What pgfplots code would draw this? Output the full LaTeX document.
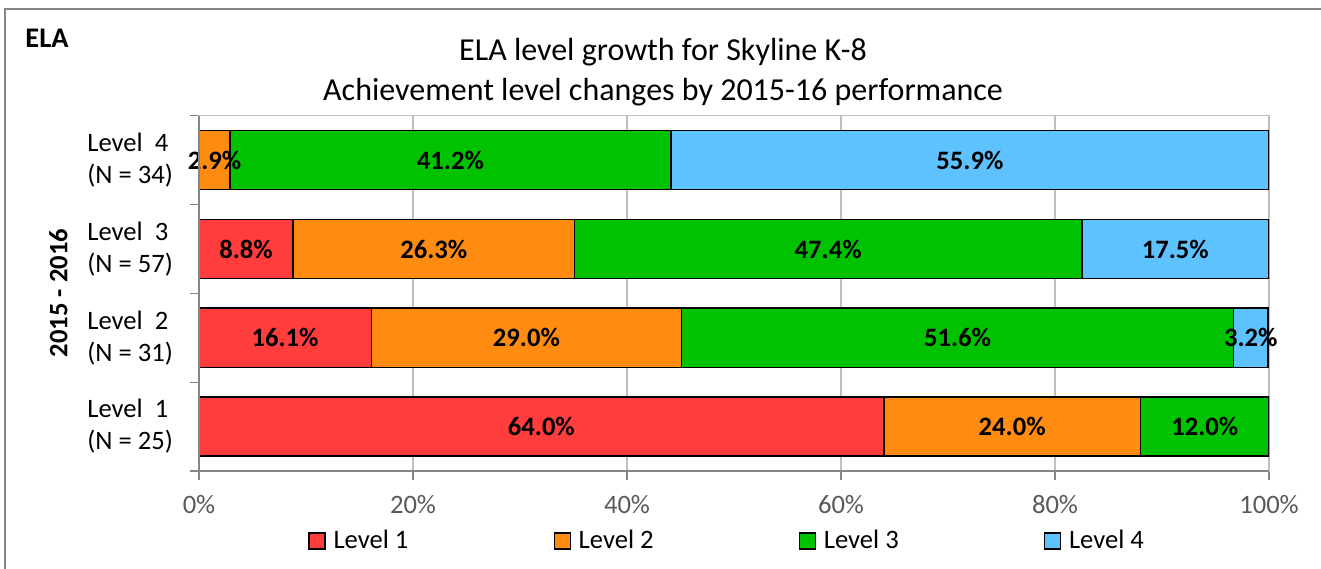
\documentclass[border=0pt]{standalone}
\usepackage{pgfplots}
\usepackage{pgfplotstable}
\pgfplotsset{compat=1.18}
\usepackage{fontspec}
\setmainfont{Carlito}
\definecolor{cL1}{RGB}{255,61,61}
\definecolor{cL2}{RGB}{255,140,17}
\definecolor{cL3}{RGB}{0,194,0}
\definecolor{cL4}{RGB}{94,194,255}
\definecolor{axgrey}{RGB}{134,134,134}
\definecolor{gridgrey}{RGB}{191,191,191}
\definecolor{ticklab}{RGB}{89,89,89}

\pgfplotstableread{
y   L1   L2   L3   L4
0.5 64.0 24.0 12.0 0
1.5 16.1 29.0 51.6 3.2
2.5 8.8  26.3 47.4 17.5
3.5 0    2.9  41.2 55.9
}\datatable

\newcommand{\fnt}{\fontsize{13.3}{16}\selectfont}

\begin{document}
\begin{tikzpicture}[x=1pt,y=1pt]
\useasboundingbox (-99.5,-48.5) rectangle (561,235.5);
\draw[axgrey, line width=1pt] (-97,-60) -- (-97,231) -- (580,231);
\node[font=\fontsize{14.2}{16}\selectfont\bfseries, anchor=base west, inner sep=0pt] at (-87,211.85) {ELA};
\node[font=\fontsize{16}{20}\selectfont, align=center, inner sep=0pt] at (232,199.5) {ELA level growth for Skyline K-8\\Achievement level changes by 2015-16 performance};
\node[font=\fnt\bfseries, rotate=90, inner sep=0pt] at (-70.25,89) {2015 - 2016};
\begin{axis}[
  at={(0,0)}, anchor=south west,
  scale only axis, width=535pt, height=177.65pt,
  xbar stacked, bar width=0.665,
  xmin=0, xmax=100, ymin=0, ymax=4,
  xtick={0,20,...,100},
  xticklabel={\pgfmathprintnumber{\tick}\%},
  /pgf/number format/assume math mode=true,
  ytick={0,1,2,3,4},
  y tick label as interval,
  yticklabels={{Level\ \ 1\\(N = 25)},{Level\ \ 2\\(N = 31)},{Level\ \ 3\\(N = 57)},{Level\ \ 4\\(N = 34)}},
  yticklabel style={align=left, font=\fnt, anchor=east, inner sep=0pt, xshift=-8.35pt},
  xticklabel style={font=\fnt, text=ticklab, anchor=base, yshift=-16.8pt},
  axis line style={gridgrey, line width=0.75pt},
  tick style={axgrey, line width=0.6pt},
  major tick length=4.5pt, tick align=outside, tick pos=left,
  xmajorgrids, grid style={gridgrey, line width=0.6pt},
  point meta=explicit,
  nodes near coords={\pgfmathfloatifflags{\pgfplotspointmeta}{0}{}{\pgfmathprintnumber[fixed,fixed zerofill,precision=1]{\pgfplotspointmeta}\%}},
  every node near coord/.append style={font=\fnt\bfseries, text=black},
  legend columns=4,
  legend image code/.code={\draw[#1, draw=black, line width=0.75pt] (0pt,-4pt) rectangle (8pt,4pt);},
  legend style={at={(0.1019,-0.197)}, anchor=west, draw=none, fill=none, inner sep=0pt, font=\fnt,
    nodes={inner sep=0pt},
    /tikz/every odd column/.append style={column sep=3.8pt},
    /tikz/every even column/.append style={column sep=72.6pt}},
  after end axis/.code={\draw[axgrey, line width=0.75pt] (rel axis cs:0,1) -- (rel axis cs:0,0) -- (rel axis cs:1,0);},
]
\addplot[fill=cL1, draw=black, line width=0.75pt] table[x=L1, y=y, meta=L1] {\datatable};
\addplot[fill=cL2, draw=black, line width=0.75pt] table[x=L2, y=y, meta=L2] {\datatable};
\addplot[fill=cL3, draw=black, line width=0.75pt] table[x=L3, y=y, meta=L3] {\datatable};
\addplot[fill=cL4, draw=black, line width=0.75pt] table[x=L4, y=y, meta=L4] {\datatable};
\legend{Level 1, Level 2, Level 3, Level 4}
\end{axis}
\end{tikzpicture}
\end{document}
